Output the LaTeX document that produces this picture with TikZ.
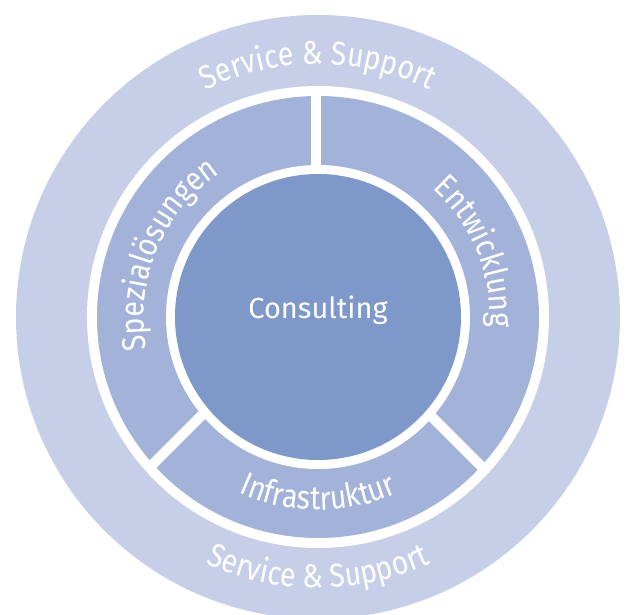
\documentclass[tikz,border=0pt]{standalone}
\usepackage{fontspec}
\setmainfont{Fira Sans}
\newfontfamily\ringfont[FakeStretch=0.86]{Fira Sans}
\usetikzlibrary{decorations.text}

\definecolor{outerband}{HTML}{C7CFE8}
\definecolor{innerband}{HTML}{A3B2D8}
\definecolor{core}{HTML}{7E98C9}

\begin{document}
\begin{tikzpicture}[
        divider/.style={white, line width=10pt},
        ringtext/.style={decorate, decoration={text along path, text color=white,
            text align=center, text={|\ringfont\fontsize{33}{33}\selectfont|#1}}}
    ]
        \useasboundingbox (-318pt,-298pt) rectangle (312pt,317pt);
        \clip (-318pt,-298pt) rectangle (312pt,317pt);

        \fill[outerband] (0,0) circle[radius=302pt];
        \fill[white]     (0,0) circle[radius=231pt];
        \fill[innerband] (0,0) circle[radius=221pt];

        \coordinate (hub) at (-2pt,16pt);
        \draw[divider] (hub) -- ++(90:210pt);
        \draw[divider] (hub) -- ++(225:235pt);
        \draw[divider] (hub) -- ++(315:238pt);

        \fill[white] (0,0) circle[radius=152pt];
        \fill[core]  (0,0) circle[radius=143pt];

        \node[anchor=base, text=white, font=\fontsize{29}{29}\selectfont] (consulting) at (0,-2pt) {Consulting};

        \path[ringtext={Service {\&} Support}] (150:253pt) arc[start angle=150, end angle=30, radius=253pt];
        \path[ringtext={Service {\&} Support}] (210:271pt) arc[start angle=210, end angle=330, radius=271pt];
        \path[ringtext={Spezialösungen}] (225:174pt) arc[start angle=225, end angle=90, radius=174pt];
        \path[ringtext={Entwicklung}]    (90:172pt) arc[start angle=90, end angle=-45, radius=172pt];
        \path[ringtext={Infrastruktur}]  (225:193pt) arc[start angle=225, end angle=315, radius=193pt];
\end{tikzpicture}
\end{document}
